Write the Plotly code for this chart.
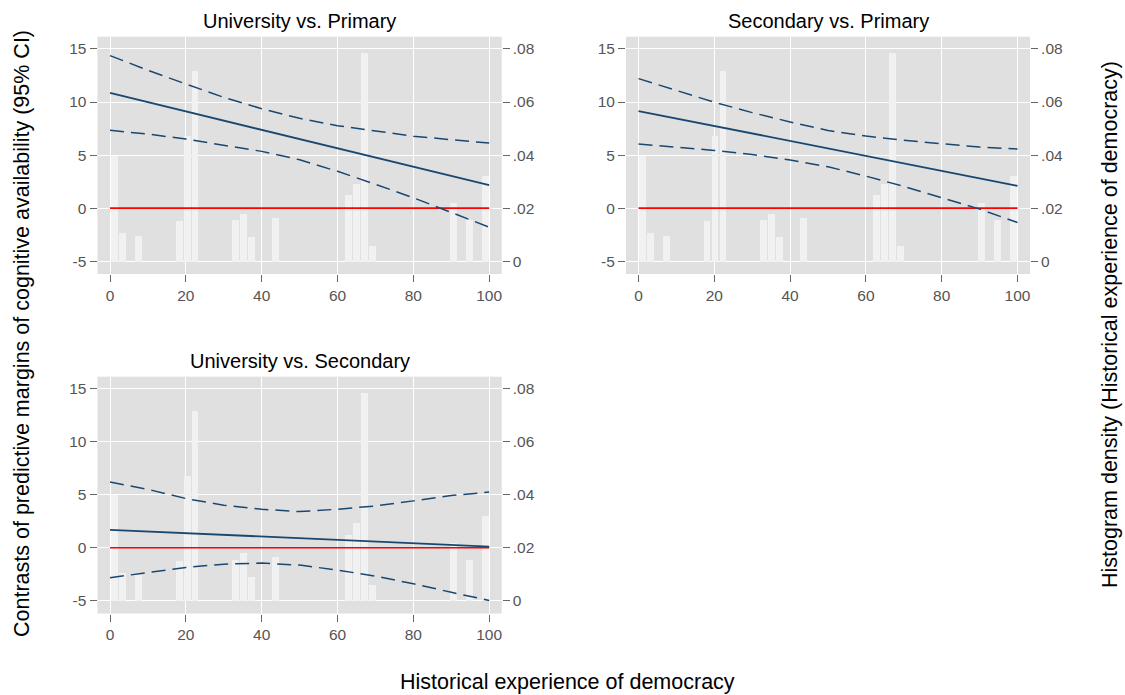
import plotly.graph_objects as go

# ---------------- data ----------------
x_grid = [0, 10, 20, 30, 40, 50, 60, 70, 80, 90, 100]

# University vs. Primary
up_fit = [10.85, 9.98, 9.11, 8.25, 7.38, 6.51, 5.64, 4.77, 3.91, 3.04, 2.17]
up_hi = [14.37, 12.99, 11.70, 10.44, 9.37, 8.46, 7.77, 7.25, 6.78, 6.45, 6.13]
up_lo = [7.33, 6.98, 6.51, 5.94, 5.35, 4.56, 3.47, 2.25, 0.98, -0.40, -1.79]

# Secondary vs. Primary
sp_fit = [9.15, 8.45, 7.74, 7.04, 6.33, 5.63, 4.93, 4.22, 3.52, 2.81, 2.11]
sp_hi = [12.20, 11.10, 9.98, 9.00, 8.12, 7.32, 6.79, 6.39, 6.06, 5.75, 5.57]
sp_lo = [6.04, 5.75, 5.44, 5.06, 4.54, 3.90, 3.02, 2.05, 0.96, -0.09, -1.35]

# University vs. Secondary
us_fit = [1.70, 1.54, 1.38, 1.23, 1.07, 0.91, 0.75, 0.59, 0.43, 0.28, 0.12]
us_hi = [6.21, 5.52, 4.65, 4.02, 3.64, 3.42, 3.64, 3.95, 4.43, 4.93, 5.26]
us_lo = [-2.82, -2.32, -1.85, -1.54, -1.44, -1.63, -2.10, -2.67, -3.39, -4.20, -4.97]

# Histogram of historical experience of democracy
hist_x = [1.06, 3.19, 7.45, 18.09, 20.2, 22.3, 32.98, 35.1, 37.2, 43.6,
          62.8, 64.9, 67.0, 69.2, 90.4, 94.7, 98.9]
hist_d = [0.0399, 0.0107, 0.0098, 0.0152, 0.0473, 0.0718, 0.0157, 0.0180, 0.0092, 0.0165,
          0.0250, 0.0293, 0.0786, 0.0059, 0.0220, 0.0156, 0.0322]

ref_x = [0, 100]
ref_y = [0, 0]

titles = ["University vs. Primary", "Secondary vs. Primary", "University vs. Secondary"]
series = [(up_fit, up_hi, up_lo), (sp_fit, sp_hi, sp_lo), (us_fit, us_hi, us_lo)]

left_ticks = [-5, 0, 5, 10, 15]
left_text = ["-5", "0", "5", "10", "15"]
right_ticks = [0, 0.02, 0.04, 0.06, 0.08]
right_text = ["0", ".02", ".04", ".06", ".08"]
x_ticks = [0, 20, 40, 60, 80, 100]

# ---------------- styling / layout ----------------
W, H = 1125, 695
FONT = "Helvetica, Liberation Sans, Arial, sans-serif"
NAVY = "#1a476f"
BG = "#e0e0e0"
BAR = "#f1f1f1"
TICKC = "#666666"
LABC = "#555555"

# panel pixel boxes (left, right, top, bottom)
boxes = [(97.5, 501.7, 36.7, 274.0), (626.0, 1030.0, 36.7, 274.0), (97.5, 501.7, 376.7, 613.5)]

yr = [-6.2, 16.15]
dr = [(yr[0] + 5) / 250, (yr[1] + 5) / 250]
xr = [-3.3, 103.3]

fig = go.Figure()
layout = dict(
    width=W, height=H,
    margin=dict(l=0, r=0, t=0, b=0),
    paper_bgcolor="white", plot_bgcolor=BG,
    showlegend=False,
    font=dict(family=FONT, size=15, color=LABC),
    bargap=0,
)
annotations = []

for i, (box, title, (fit, hi, lo)) in enumerate(zip(boxes, titles, series)):
    n = i + 1
    xa = "x" if n == 1 else f"x{n}"
    ya = "y" if n == 1 else f"y{n}"        # density (base, right)
    yo = f"y{n + 3}"                        # contrasts (overlay, left)
    l, r, t, b = box
    xd = [l / W, r / W]
    yd = [1 - b / H, 1 - t / H]

    layout["xaxis" if n == 1 else f"xaxis{n}"] = dict(
        domain=xd, range=xr, anchor=ya, tickvals=x_ticks,
        ticks="outside", ticklen=7, tickcolor=TICKC, tickwidth=1,
        showgrid=True, gridcolor="white", gridwidth=1.3, zeroline=False,
        showline=False, tickfont=dict(size=15.5, color=LABC, family=FONT),
    )
    layout["yaxis" if n == 1 else f"yaxis{n}"] = dict(
        domain=yd, range=dr, anchor=xa, side="right",
        tickvals=right_ticks, ticktext=right_text,
        ticks="outside", ticklen=7, tickcolor=TICKC, tickwidth=1,
        showgrid=True, gridcolor="white", gridwidth=1.3, zeroline=False,
        showline=False, tickfont=dict(size=15.5, color=LABC, family=FONT),
    )
    layout[f"yaxis{n + 3}"] = dict(
        range=yr, anchor=xa, overlaying=ya, side="left",
        tickvals=left_ticks, ticktext=left_text,
        ticks="outside", ticklen=7, tickcolor=TICKC, tickwidth=1,
        showgrid=False, zeroline=False, showline=False,
        tickfont=dict(size=15.5, color=LABC, family=FONT),
    )

    fig.add_trace(go.Bar(x=hist_x, y=hist_d, width=1.8, marker=dict(color=BAR, line=dict(width=0)),
                         xaxis=xa, yaxis=ya, hoverinfo="skip"))
    fig.add_trace(go.Scatter(x=ref_x, y=ref_y, mode="lines", line=dict(color="#ff0000", width=1.6),
                             xaxis=xa, yaxis=yo))
    fig.add_trace(go.Scatter(x=x_grid, y=hi, mode="lines",
                             line=dict(color=NAVY, width=1.5, dash="14px,7px"), xaxis=xa, yaxis=yo))
    fig.add_trace(go.Scatter(x=x_grid, y=lo, mode="lines",
                             line=dict(color=NAVY, width=1.5, dash="14px,7px"), xaxis=xa, yaxis=yo))
    fig.add_trace(go.Scatter(x=x_grid, y=fit, mode="lines",
                             line=dict(color=NAVY, width=1.8), xaxis=xa, yaxis=yo))

    annotations.append(dict(
        text=title, x=(l + r) / 2 / W, y=1 - (t - 16) / H, xref="paper", yref="paper",
        xanchor="center", yanchor="middle", showarrow=False,
        font=dict(size=20, color="black", family=FONT)))

AX_TITLE = 21.5
annotations.append(dict(
    text="Contrasts of predictive margins of cognitive availability (95% CI)",
    x=22 / W, y=1 - 334 / H, xref="paper", yref="paper", textangle=-90,
    xanchor="center", yanchor="middle", showarrow=False,
    font=dict(size=AX_TITLE, color="black", family=FONT)))
annotations.append(dict(
    text="Histogram density (Historical experience of democracy)",
    x=1110 / W, y=1 - 325 / H, xref="paper", yref="paper", textangle=-90,
    xanchor="center", yanchor="middle", showarrow=False,
    font=dict(size=AX_TITLE, color="black", family=FONT)))
annotations.append(dict(
    text="Historical experience of democracy",
    x=567.5 / W, y=1 - 682 / H, xref="paper", yref="paper",
    xanchor="center", yanchor="middle", showarrow=False,
    font=dict(size=AX_TITLE, color="black", family=FONT)))

layout["annotations"] = annotations
fig.update_layout(**layout)
fig.write_html(
    "out.html",
    config={"displayModeBar": False},
    post_script="document.body.style.margin='0';document.body.style.overflow='hidden';",
)
